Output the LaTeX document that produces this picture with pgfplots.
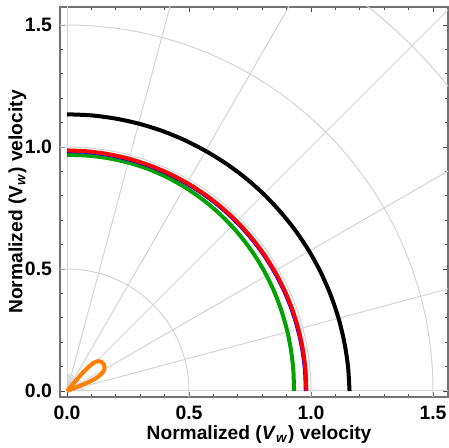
\documentclass[border=0pt]{standalone}
\usepackage{fontspec}
\setmainfont{Liberation Sans}
\usepackage{pgfplots}
\pgfplotsset{compat=1.18}
\definecolor{mgreen}{rgb}{0,0.63,0}
\definecolor{morange}{rgb}{1,0.5,0}
\definecolor{gridc}{gray}{0.83}
\begin{document}
\begin{tikzpicture}
\begin{axis}[name=ax, scale only axis, width=194pt, height=195pt,
  xmin=-0.0287, xmax=1.5615, ymin=-0.0246, ymax=1.5738,
  xtick={0,0.5,1,1.5}, ytick={0,0.5,1,1.5},
  xticklabels={0.0,0.5,1.0,1.5}, yticklabels={0.0,0.5,1.0,1.5},
  minor xtick={0.1,0.2,0.3,0.4,0.6,0.7,0.8,0.9,1.1,1.2,1.3,1.4},
  minor ytick={0.1,0.2,0.3,0.4,0.6,0.7,0.8,0.9,1.1,1.2,1.3,1.4},
  tick align=inside, major tick length=2.5pt, minor tick length=1.5pt,
  tick style={black!70, line width=0.4pt},
  axis line style={black!55, line width=0.9pt},
  ticklabel style={font=\fontsize{9.7}{11}\selectfont\bfseries},
  xticklabel style={yshift=-1pt},
  yticklabel style={xshift=-0.5pt},
  xlabel={Normalized (\textit{V}\textsubscript{\textit{w}}) velocity},
  ylabel={Normalized (V\textsubscript{\textit{w}}) velocity},
  label style={font=\fontsize{9.6}{11}\selectfont\bfseries},
  xlabel style={at={(axis description cs:0.513,-0.110)}, anchor=base},
  ylabel style={at={(axis description cs:-0.097,0.50)}, anchor=base},
]
% polar grid
\draw[gridc, line width=0.5pt] (axis cs:0,0) circle[radius=0.5];
\draw[gridc, line width=0.5pt] (axis cs:0,0) circle[radius=1.0];
\draw[gridc, line width=0.5pt] (axis cs:0,0) circle[radius=1.5];
\draw[gridc, line width=0.5pt] (axis cs:0,0) circle[radius=2.0];
\draw[gridc, line width=0.5pt] (axis cs:0,0) -- (axis cs:3,0);
\draw[gridc, line width=0.5pt] (axis cs:0,0) -- (axis cs:0,3);
\draw[gridc, line width=0.5pt] (axis cs:0,0) -- (axis cs:2.8978,0.7765);
\draw[gridc, line width=0.5pt] (axis cs:0,0) -- (axis cs:2.5981,1.5);
\draw[gridc, line width=0.5pt] (axis cs:0,0) -- (axis cs:2.1213,2.1213);
\draw[gridc, line width=0.5pt] (axis cs:0,0) -- (axis cs:1.5,2.5981);
\draw[gridc, line width=0.5pt] (axis cs:0,0) -- (axis cs:0.7765,2.8978);
% short fine radials near origin
\draw[gridc, line width=0.4pt] (axis cs:0,0) -- (axis cs:0.0697,0.0061);
\draw[gridc, line width=0.4pt] (axis cs:0,0) -- (axis cs:0.0689,0.0122);
\draw[gridc, line width=0.4pt] (axis cs:0,0) -- (axis cs:0.0658,0.0239);
\draw[gridc, line width=0.4pt] (axis cs:0,0) -- (axis cs:0.0634,0.0296);
\draw[gridc, line width=0.4pt] (axis cs:0,0) -- (axis cs:0.0573,0.0401);
\draw[gridc, line width=0.4pt] (axis cs:0,0) -- (axis cs:0.0536,0.0450);
\draw[gridc, line width=0.4pt] (axis cs:0,0) -- (axis cs:0.0450,0.0536);
\draw[gridc, line width=0.4pt] (axis cs:0,0) -- (axis cs:0.0401,0.0573);
\draw[gridc, line width=0.4pt] (axis cs:0,0) -- (axis cs:0.0296,0.0634);
\draw[gridc, line width=0.4pt] (axis cs:0,0) -- (axis cs:0.0239,0.0658);
\draw[gridc, line width=0.4pt] (axis cs:0,0) -- (axis cs:0.0122,0.0689);
\draw[gridc, line width=0.4pt] (axis cs:0,0) -- (axis cs:0.0061,0.0697);
% green
\addplot[mgreen, line width=2pt, smooth] coordinates {
(0.930,0) (0.9280,0.0812) (0.9188,0.1620) (0.9036,0.2421) (0.8814,0.3208)
(0.8533,0.3979) (0.8184,0.4725) (0.7770,0.5440) (0.7293,0.6119) (0.6756,0.6756)
(0.6164,0.7346) (0.5518,0.7880) (0.4825,0.8357) (0.4087,0.8764) (0.3314,0.9106)
(0.2508,0.9360) (0.1683,0.9543) (0.0844,0.9648) (0,0.968)};
% blue (under red)
\addplot[blue, line width=1.6pt, smooth] coordinates {
(0.977,0) (0.9737,0.0852) (0.9627,0.1698) (0.9445,0.2531) (0.9191,0.3345)
(0.8867,0.4135) (0.8476,0.4893) (0.8019,0.5615) (0.7501,0.6294) (0.6926,0.6926)
(0.6298,0.7506) (0.5621,0.8028) (0.4902,0.8490) (0.4144,0.8887) (0.3355,0.9217)
(0.2539,0.9477) (0.1704,0.9665) (0.0856,0.9780) (0,0.982)};
% red
\addplot[red, line width=2pt, smooth] coordinates {
(0.981,0) (0.9776,0.0855) (0.9666,0.1704) (0.9484,0.2541) (0.9229,0.3359)
(0.8903,0.4152) (0.8510,0.4913) (0.8052,0.5638) (0.7532,0.6320) (0.6954,0.6954)
(0.6324,0.7536) (0.5644,0.8061) (0.4922,0.8525) (0.4161,0.8924) (0.3369,0.9255)
(0.2550,0.9516) (0.1711,0.9705) (0.0859,0.9820) (0,0.986)};
% black
\addplot[black, line width=2pt, smooth] coordinates {
(1.158,0) (1.1516,0.1008) (1.1365,0.2004) (1.1128,0.2982) (1.0806,0.3933)
(1.0404,0.4852) (0.9925,0.5730) (0.9371,0.6562) (0.8748,0.7341) (0.8065,0.8065)
(0.7321,0.8725) (0.6524,0.9318) (0.5680,0.9838) (0.4799,1.0291) (0.3882,1.0665)
(0.2936,1.0958) (0.1969,1.1168) (0.0988,1.1297) (0,1.134)};
% orange petal
\addplot[morange, line width=2pt, smooth] coordinates {
(0,0) (0.03,0.012) (0.06,0.024) (0.09,0.037) (0.115,0.05) (0.135,0.064)
(0.149,0.08) (0.154,0.097) (0.15,0.111) (0.14,0.12) (0.126,0.122)
(0.11,0.116) (0.09,0.1) (0.065,0.075) (0.04,0.047) (0.018,0.021) (0,0)};
\end{axis}
\pgfresetboundingbox
\path[use as bounding box] ([shift={(-30pt,-25.5pt)}]ax.south west) rectangle ([shift={(0pt,3.5pt)}]ax.north east);
\end{tikzpicture}
\end{document}
